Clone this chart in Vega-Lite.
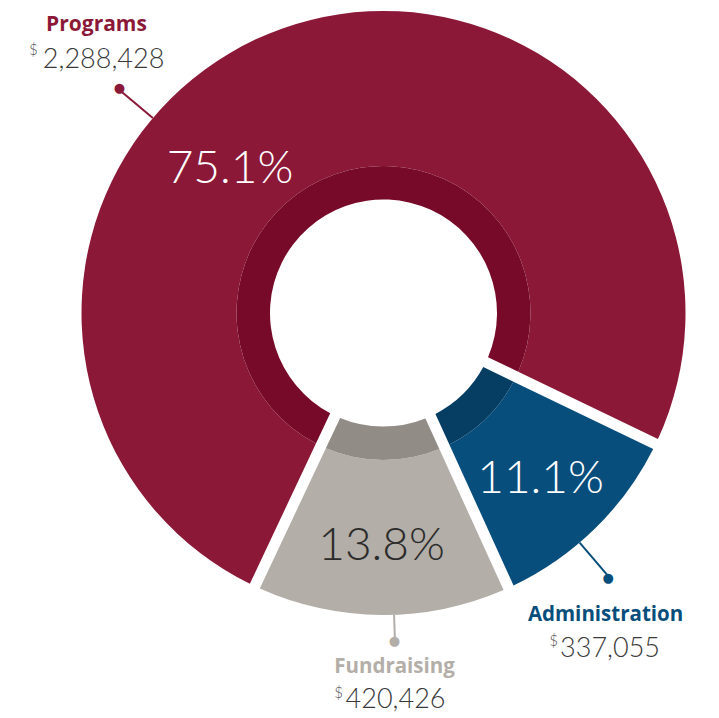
{
  "$schema": "https://vega.github.io/schema/vega-lite/v6.json",
  "width": 671,
  "height": 626,
  "autosize": {"type": "none"},
  "padding": {"left": 48, "top": 0, "right": 0, "bottom": 92},
  "background": "white",
  "config": {"view": {"stroke": null}},
  "data": {
    "values": [
      {"category": "Programs", "amount": 2288428, "amountLabel": "2,288,428", "pct": "75.1%"},
      {"category": "Administration", "amount": 337055, "amountLabel": "337,055", "pct": "11.1%"},
      {"category": "Fundraising", "amount": 420426, "amountLabel": "420,426", "pct": "13.8%"}
    ]
  },
  "transform": [
    {"stack": "amount", "groupby": [], "sort": [{"field": "category", "order": "ascending"}], "as": ["a0", "a1"]}
  ],
  "layer": [
    {
      "mark": {"type": "arc", "outerRadius": 302, "innerRadius": 147, "padAngle": 0.0327},
      "encoding": {
        "theta": {"field": "a1", "type": "quantitative", "stack": null, "scale": {"range": [2.0193, 8.3025], "nice": false, "zero": true}},
        "theta2": {"field": "a0"},
        "color": {"field": "category", "type": "nominal", "legend": null,
          "scale": {"domain": ["Administration", "Fundraising", "Programs"], "range": ["#084E7C", "#B3AEA7", "#8C1838"]}}
      }
    },
    {
      "mark": {"type": "arc", "outerRadius": 147, "innerRadius": 113.5, "padAngle": 0.0592},
      "encoding": {
        "theta": {"field": "a1", "type": "quantitative", "stack": null},
        "theta2": {"field": "a0"},
        "fill": {"field": "category", "type": "nominal", "legend": null,
          "scale": {"domain": ["Administration", "Fundraising", "Programs"], "range": ["#063D63", "#918D86", "#780A29"]}}
      }
    },

    {
      "transform": [{"filter": "datum.category === 'Programs'"}],
      "mark": {"type": "arc", "outerRadius": 346, "innerRadius": 302, "thetaOffset": 1.8321, "theta2Offset": 1.8321, "stroke": "#8C1838", "strokeWidth": 2, "fillOpacity": 0},
      "encoding": {"theta": {"field": "a0", "type": "quantitative", "stack": null}, "theta2": {"field": "a0"}}
    },
    {
      "transform": [{"filter": "datum.category === 'Administration'"}],
      "mark": {"type": "arc", "outerRadius": 347, "innerRadius": 302, "thetaOffset": 0.4154, "theta2Offset": 0.4154, "stroke": "#084E7C", "strokeWidth": 2, "fillOpacity": 0},
      "encoding": {"theta": {"field": "a0", "type": "quantitative", "stack": null}, "theta2": {"field": "a0"}}
    },
    {
      "transform": [{"filter": "datum.category === 'Fundraising'"}],
      "mark": {"type": "arc", "outerRadius": 328, "innerRadius": 302, "thetaOffset": 0.3920, "theta2Offset": 0.3920, "stroke": "#B3AEA7", "strokeWidth": 2, "fillOpacity": 0},
      "encoding": {"theta": {"field": "a0", "type": "quantitative", "stack": null}, "theta2": {"field": "a0"}}
    },

    {
      "transform": [{"filter": "datum.category === 'Programs'"}],
      "mark": {"type": "text", "text": "●", "font": "DejaVu Sans", "fontSize": 13, "baseline": "middle", "align": "center", "radius": 346.8, "thetaOffset": 1.8352, "color": "#8C1838"},
      "encoding": {"theta": {"field": "a0", "type": "quantitative", "stack": null}}
    },
    {
      "transform": [{"filter": "datum.category === 'Administration'"}],
      "mark": {"type": "text", "text": "●", "font": "DejaVu Sans", "fontSize": 13, "baseline": "middle", "align": "center", "radius": 347.7, "thetaOffset": 0.4194, "color": "#084E7C"},
      "encoding": {"theta": {"field": "a0", "type": "quantitative", "stack": null}}
    },
    {
      "transform": [{"filter": "datum.category === 'Fundraising'"}],
      "mark": {"type": "text", "text": "●", "font": "DejaVu Sans", "fontSize": 13, "baseline": "middle", "align": "center", "radius": 328.2, "thetaOffset": 0.3934, "color": "#B3AEA7"},
      "encoding": {"theta": {"field": "a0", "type": "quantitative", "stack": null}}
    },

    {
      "transform": [{"filter": "datum.category === 'Programs'"}],
      "mark": {"type": "text", "font": "Lato", "fontWeight": 300, "fontSize": 46, "baseline": "alphabetic", "align": "center", "radius": 201.2, "thetaOffset": 1.8331, "color": "#FFFFFF"},
      "encoding": {"theta": {"field": "a0", "type": "quantitative", "stack": null}, "text": {"field": "pct"}}
    },
    {
      "transform": [{"filter": "datum.category === 'Administration'"}],
      "mark": {"type": "text", "font": "Lato", "fontWeight": 300, "fontSize": 46, "baseline": "alphabetic", "align": "center", "radius": 238.9, "thetaOffset": 0.4049, "color": "#FFFFFF"},
      "encoding": {"theta": {"field": "a0", "type": "quantitative", "stack": null}, "text": {"field": "pct"}}
    },
    {
      "transform": [{"filter": "datum.category === 'Fundraising'"}],
      "mark": {"type": "text", "font": "Lato", "fontWeight": 300, "fontSize": 46, "baseline": "alphabetic", "align": "center", "radius": 247, "thetaOffset": 0.4349, "color": "#2B2B2B"},
      "encoding": {"theta": {"field": "a0", "type": "quantitative", "stack": null}, "text": {"field": "pct"}}
    },

    {
      "transform": [{"filter": "datum.category === 'Programs'"}],
      "mark": {"type": "text", "font": "Open Sans", "fontWeight": 700, "fontSize": 21, "baseline": "alphabetic", "align": "center", "radius": 402.7, "thetaOffset": 1.9080, "color": "#8C1838"},
      "encoding": {"theta": {"field": "a0", "type": "quantitative", "stack": null}, "text": {"field": "category"}}
    },
    {
      "transform": [{"filter": "datum.category === 'Administration'"}],
      "mark": {"type": "text", "font": "Open Sans", "fontWeight": 700, "fontSize": 20.5, "baseline": "alphabetic", "align": "center", "radius": 379.3, "thetaOffset": 0.4969, "color": "#084E7C"},
      "encoding": {"theta": {"field": "a0", "type": "quantitative", "stack": null}, "text": {"field": "category"}}
    },
    {
      "transform": [{"filter": "datum.category === 'Fundraising'"}],
      "mark": {"type": "text", "font": "Open Sans", "fontWeight": 700, "fontSize": 20.5, "baseline": "alphabetic", "align": "center", "radius": 360.5, "thetaOffset": 0.3964, "color": "#B3AEA7"},
      "encoding": {"theta": {"field": "a0", "type": "quantitative", "stack": null}, "text": {"field": "category"}}
    },

    {
      "transform": [{"filter": "datum.category === 'Programs'"}],
      "mark": {"type": "text", "font": "Lato", "fontWeight": 300, "fontSize": 27, "baseline": "alphabetic", "align": "center", "radius": 372, "thetaOffset": 1.8495, "color": "#3A3A3A"},
      "encoding": {"theta": {"field": "a0", "type": "quantitative", "stack": null}, "text": {"field": "amountLabel"}}
    },
    {
      "transform": [{"filter": "datum.category === 'Administration'"}],
      "mark": {"type": "text", "font": "Lato", "fontWeight": 300, "fontSize": 27, "baseline": "alphabetic", "align": "center", "radius": 411.9, "thetaOffset": 0.5400, "color": "#3A3A3A"},
      "encoding": {"theta": {"field": "a0", "type": "quantitative", "stack": null}, "text": {"field": "amountLabel"}}
    },
    {
      "transform": [{"filter": "datum.category === 'Fundraising'"}],
      "mark": {"type": "text", "font": "Lato", "fontWeight": 300, "fontSize": 27, "baseline": "alphabetic", "align": "center", "radius": 395.2, "thetaOffset": 0.3965, "color": "#3A3A3A"},
      "encoding": {"theta": {"field": "a0", "type": "quantitative", "stack": null}, "text": {"field": "amountLabel"}}
    },

    {
      "transform": [{"filter": "datum.category === 'Programs'"}],
      "mark": {"type": "text", "text": "$", "font": "Lato", "fontWeight": 300, "fontSize": 15, "baseline": "alphabetic", "align": "center", "radius": 435, "thetaOffset": 1.7657, "color": "#555555"},
      "encoding": {"theta": {"field": "a0", "type": "quantitative", "stack": null}}
    },
    {
      "transform": [{"filter": "datum.category === 'Administration'"}],
      "mark": {"type": "text", "text": "$", "font": "Lato", "fontWeight": 300, "fontSize": 15, "baseline": "alphabetic", "align": "center", "radius": 373.9, "thetaOffset": 0.6503, "color": "#555555"},
      "encoding": {"theta": {"field": "a0", "type": "quantitative", "stack": null}}
    },
    {
      "transform": [{"filter": "datum.category === 'Fundraising'"}],
      "mark": {"type": "text", "text": "$", "font": "Lato", "fontWeight": 300, "fontSize": 15, "baseline": "alphabetic", "align": "center", "radius": 387.6, "thetaOffset": 0.5433, "color": "#555555"},
      "encoding": {"theta": {"field": "a0", "type": "quantitative", "stack": null}}
    }
  ]
}
